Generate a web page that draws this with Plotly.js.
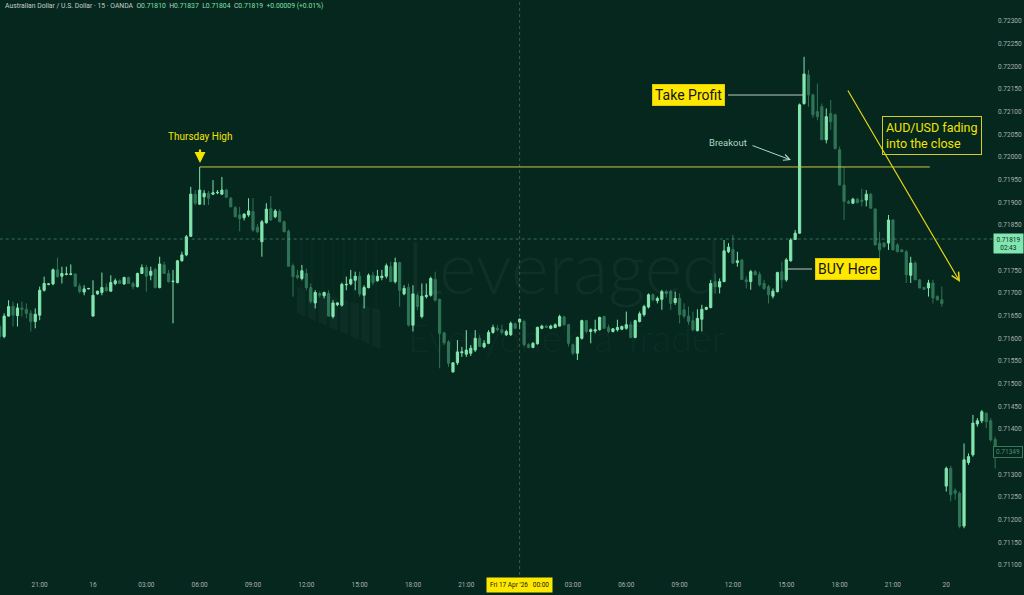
<!DOCTYPE html>
<html><head><meta charset="utf-8">
<script src="https://cdn.plot.ly/plotly-3.0.1.min.js"></script>
<style>html,body{margin:0;padding:0;background:#05271e;overflow:hidden}#chart{width:1024px;height:595px}</style>
</head><body><div id="chart"></div><script>
// ---- data: AUD/USD 15-minute candles ----
const open = [
.71626,.71604,.71649,.71671,.71650,.71667,.71664,.71655,.71637,.71651,
.71706,.71719,.71720,.71751,.71737,.71741,.71741,.71742,.71715,.71702,
.71709,.71649,.71698,.71701,.71712,.71704,.71721,.71727,.71720,.71734,
.71721,.71714,.71743,.71756,.71739,.71752,.71712,.71762,.71743,.71725,
.71723,.71771,.71784,.71825,.71918,.71896,.71912,.71920,.71918,.71921,
.71918,.71927,.71909,.71888,.71872,.71866,.71872,.71880,.71845,.71813,
.71855,.71886,.71868,.71880,.71857,.71836,.71760,.71739,.71732,.71743,
.71712,.71678,.71699,.71694,.71699,.71648,.71674,.71673,.71718,.71720,
.71728,.71737,.71695,.71712,.71739,.71727,.71734,.71737,.71758,.71725,
.71767,.71698,.71712,.71629,.71695,.71648,.71692,.71695,.71730,.71686,
.71612,.71592,.71526,.71546,.71568,.71565,.71567,.71574,.71600,.71581,
.71589,.71613,.71622,.71619,.71608,.71608,.71632,.71636,.71637,.71586,
.71580,.71588,.71622,.71627,.71622,.71624,.71627,.71647,.71630,.71586,
.71567,.71600,.71639,.71615,.71616,.71619,.71648,.71624,.71615,.71619,
.71620,.71622,.71630,.71602,.71637,.71652,.71669,.71696,.71683,.71686,
.71703,.71703,.71679,.71688,.71663,.71649,.71639,.71617,.71642,.71664,
.71668,.71725,.71713,.71725,.71791,.71796,.71767,.71773,.71729,.71725,
.71747,.71741,.71721,.71714,.71693,.71703,.71747,.71729,.71771,.71818,
.71832,.72118,.72181,.72137,.72100,.72111,.72038,.72096,.72093,.72016,
.71938,.71902,.71898,.71907,.71905,.71905,.71918,.71885,.71810,.71810,
.71810,.71861,.71806,.71795,.71791,.71739,.71766,.71729,.71712,.71711,
.71722,.71692,.71685,
.71274,.71313,.71264,.71258,.71186,.71326,.71343,.71411,.71418,.71435,
.71418,.71377];
const high = [
.71633,.71655,.71684,.71681,.71677,.71681,.71677,.71662,.71666,.71714,
.71736,.71721,.71754,.71778,.71758,.71758,.71763,.71743,.71721,.71717,
.71711,.71728,.71705,.71745,.71721,.71739,.71732,.71730,.71736,.71736,
.71725,.71745,.71763,.71762,.71758,.71756,.71780,.71769,.71751,.71751,
.71773,.71791,.71828,.71934,.71927,.71978,.71927,.71925,.71949,.71927,
.71956,.71930,.71912,.71892,.71890,.71876,.71909,.71909,.71852,.71861,
.71898,.71914,.71885,.71885,.71860,.71840,.71765,.71751,.71762,.71754,
.71721,.71706,.71703,.71703,.71706,.71684,.71680,.71723,.71736,.71751,
.71747,.71747,.71717,.71743,.71747,.71751,.71751,.71765,.71769,.71778,
.71769,.71717,.71721,.71717,.71699,.71721,.71721,.71736,.71747,.71688,
.71615,.71596,.71547,.71596,.71581,.71618,.71585,.71618,.71607,.71596,
.71618,.71630,.71629,.71630,.71619,.71637,.71635,.71644,.71641,.71589,
.71592,.71626,.71630,.71630,.71630,.71633,.71652,.71650,.71632,.71589,
.71604,.71641,.71641,.71622,.71641,.71648,.71650,.71630,.71622,.71641,
.71628,.71659,.71637,.71641,.71659,.71674,.71699,.71699,.71692,.71707,
.71707,.71707,.71703,.71699,.71677,.71670,.71659,.71664,.71674,.71670,
.71729,.71743,.71732,.71817,.71810,.71828,.71791,.71774,.71736,.71751,
.71751,.71747,.71729,.71718,.71710,.71747,.71769,.71777,.71821,.71839,
.72118,.72221,.72192,.72140,.72162,.72118,.72107,.72126,.72096,.72023,
.71979,.71905,.71910,.71910,.71930,.71927,.71920,.71887,.71835,.71812,
.71872,.71863,.71810,.71797,.71795,.71780,.71770,.71731,.71714,.71729,
.71729,.71695,.71714,
.71317,.71319,.71269,.71262,.71368,.71346,.71431,.71424,.71442,.71436,
.71424,.71383];
const low = [
.71596,.71600,.71648,.71626,.71626,.71648,.71644,.71615,.71622,.71640,
.71703,.71717,.71717,.71734,.71721,.71739,.71739,.71714,.71699,.71695,
.71708,.71648,.71696,.71695,.71703,.71703,.71717,.71720,.71718,.71720,
.71708,.71712,.71742,.71703,.71728,.71710,.71710,.71742,.71723,.71633,
.71721,.71769,.71781,.71824,.71894,.71894,.71894,.71894,.71916,.71918,
.71916,.71910,.71890,.71868,.71836,.71860,.71868,.71835,.71832,.71780,
.71853,.71859,.71865,.71857,.71835,.71759,.71692,.71730,.71728,.71706,
.71677,.71666,.71690,.71688,.71648,.71644,.71671,.71670,.71706,.71717,
.71706,.71692,.71666,.71710,.71717,.71725,.71728,.71732,.71725,.71721,
.71670,.71695,.71626,.71615,.71662,.71644,.71688,.71692,.71681,.71534,
.71585,.71537,.71524,.71541,.71559,.71559,.71561,.71570,.71581,.71578,
.71587,.71610,.71615,.71608,.71605,.71605,.71620,.71620,.71582,.71578,
.71578,.71586,.71620,.71623,.71620,.71622,.71626,.71628,.71582,.71563,
.71552,.71597,.71611,.71589,.71611,.71617,.71622,.71611,.71613,.71615,
.71618,.71619,.71600,.71600,.71635,.71648,.71666,.71681,.71677,.71663,
.71690,.71663,.71674,.71633,.71644,.71630,.71615,.71615,.71615,.71662,
.71666,.71699,.71699,.71724,.71788,.71764,.71758,.71729,.71710,.71707,
.71740,.71714,.71707,.71677,.71688,.71701,.71710,.71725,.71769,.71817,
.71830,.72115,.72111,.72086,.72081,.72038,.72030,.72060,.72016,.71938,
.71861,.71896,.71896,.71898,.71891,.71891,.71886,.71806,.71766,.71800,
.71795,.71795,.71790,.71791,.71722,.71722,.71729,.71711,.71707,.71692,
.71677,.71683,.71670,
.71262,.71240,.71244,.71181,.71181,.71321,.71339,.71405,.71413,.71402,
.71372,.71313];
const close = [
.71604,.71649,.71670,.71651,.71667,.71664,.71655,.71637,.71653,.71706,
.71721,.71720,.71751,.71736,.71743,.71742,.71742,.71715,.71703,.71709,
.71710,.71695,.71704,.71712,.71705,.71723,.71727,.71721,.71734,.71721,
.71714,.71743,.71756,.71737,.71748,.71712,.71764,.71743,.71725,.71726,
.71771,.71784,.71824,.71918,.71898,.71927,.71920,.71909,.71921,.71922,
.71927,.71911,.71890,.71868,.71864,.71874,.71881,.71839,.71835,.71857,
.71885,.71861,.71881,.71857,.71835,.71759,.71736,.71734,.71749,.71712,
.71681,.71701,.71695,.71701,.71649,.71678,.71678,.71719,.71719,.71730,
.71737,.71698,.71712,.71739,.71723,.71737,.71737,.71760,.71725,.71767,
.71706,.71710,.71629,.71698,.71670,.71693,.71695,.71732,.71684,.71611,
.71590,.71545,.71546,.71570,.71570,.71574,.71578,.71600,.71582,.71589,
.71613,.71624,.71619,.71613,.71615,.71633,.71622,.71642,.71586,.71580,
.71589,.71624,.71627,.71624,.71627,.71630,.71648,.71630,.71589,.71567,
.71602,.71639,.71615,.71619,.71619,.71646,.71622,.71615,.71621,.71624,
.71626,.71630,.71602,.71639,.71654,.71670,.71696,.71685,.71688,.71703,
.71699,.71677,.71688,.71652,.71649,.71637,.71619,.71644,.71664,.71668,
.71721,.71714,.71725,.71793,.71801,.71766,.71771,.71730,.71725,.71747,
.71740,.71718,.71710,.71696,.71704,.71745,.71729,.71773,.71817,.71832,
.72115,.72183,.72137,.72093,.72089,.72038,.72089,.72078,.72019,.71938,
.71902,.71898,.71907,.71899,.71902,.71918,.71887,.71806,.71795,.71802,
.71861,.71795,.71791,.71791,.71740,.71766,.71729,.71711,.71708,.71722,
.71689,.71685,.71677,
.71313,.71255,.71258,.71185,.71332,.71339,.71413,.71418,.71438,.71416,
.71376,.71354];

// time-axis labels (candle slot where each label sits)
const timeTickSlot = [10,22,34,46,58,70,82,94,106,130,142,154,166,178,190,202,214];
const timeTickText = ['21:00','16','03:00','06:00','09:00','12:00','15:00','18:00','21:00',
                      '03:00','06:00','09:00','12:00','15:00','18:00','21:00','20'];
const markerSlot = 118;
const markerText = "Fri 17 Apr '26&nbsp;&nbsp;&nbsp;00:00";
const priceTicks = [0.711,0.7115,0.712,0.7125,0.713,0.714,0.7145,0.715,0.7155,0.716,0.7165,
                    0.717,0.7175,0.7185,0.719,0.7195,0.72,0.7205,0.721,0.7215,0.722,0.7225,0.723];
const headerTitle = 'Australian Dollar / U.S. Dollar · 15 · OANDA';
const headerO = '0.71810', headerH = '0.71837', headerL = '0.71804', headerC = '0.71819', headerChg = '+0.00009 (+0.01%)';
const lastPrice = 0.71819, countdown = '02:43';
const livePrice = 0.71349;
const thursdayHighEnd = 210.3;

// ---- layout helpers ----
const BG = '#05271e', BULL = '#82e6af', BEAR = '#2f7457';
const W = 997, H = 575;
const px = x => x / W;
const py = y => 1 - y / H;
const slots = open.map((_, i) => i + 1);

// Thursday high = max high in the first part of the chart
let thIdx = 0;
for (let i = 1; i < 120; i++) if (high[i] > high[thIdx]) thIdx = i;
const thursdayHigh = high[thIdx];

const trace = {
  type: 'candlestick', x: slots, open: open, high: high, low: low, close: close,
  increasing: {line: {color: BULL, width: 1}, fillcolor: BULL},
  decreasing: {line: {color: BEAR, width: 1}, fillcolor: BEAR},
  whiskerwidth: 0, hoverinfo: 'skip', showlegend: false
};

const F = 'Roboto, "Open Sans", sans-serif';
const YEL = '#ffe800';

const shapes = [
  {type: 'line', xref: 'x', yref: 'y', x0: 1, x1: 230, y0: lastPrice, y1: lastPrice,
   line: {color: 'rgba(120,200,160,0.45)', width: 1, dash: 'dot'}},
  {type: 'line', xref: 'x', yref: 'paper', x0: markerSlot, x1: markerSlot, y0: 0, y1: 1,
   line: {color: 'rgba(150,170,110,0.4)', width: 1, dash: 'dot'}},
  {type: 'line', xref: 'x', yref: 'y', x0: thIdx + 1, x1: thursdayHighEnd, y0: thursdayHigh, y1: thursdayHigh,
   line: {color: '#cfc63e', width: 1}},
  {type: 'line', xref: 'paper', yref: 'paper', x0: px(728), x1: px(803), y0: py(95), y1: py(95),
   line: {color: '#b8cbc1', width: 1}},
  {type: 'line', xref: 'paper', yref: 'paper', x0: px(786), x1: px(812), y0: py(269), y1: py(269),
   line: {color: '#b8cbc1', width: 1}}
];
// watermark logo (decorative)
for (let i = 0; i < 8; i++) {
  const x0 = 297 + i * 10.7, x1 = x0 + 8.5, xc = (x0 + x1) / 2;
  const t0 = 287 + (x0 - 297) * 0.27, t1 = 287 + (x1 - 297) * 0.27;
  const b0 = 313 + (x0 - 297) * 0.43, b1 = 313 + (x1 - 297) * 0.43;
  shapes.push({type: 'path', xref: 'paper', yref: 'paper', layer: 'below',
    path: `M${px(x0)},${py(t0)} L${px(x1)},${py(t1)} L${px(x1)},${py(b1)} L${px(x0)},${py(b0)} Z`,
    fillcolor: 'rgba(255,255,255,0.035)', line: {width: 0}});
  shapes.push({type: 'line', xref: 'paper', yref: 'paper', layer: 'below',
    x0: px(xc), x1: px(xc), y0: py(240), y1: py(t0 + 1),
    line: {color: 'rgba(255,255,255,0.035)', width: 1}});
}

const G = '#7fe0aa', GR = '#c4cec9';
const A = (o) => Object.assign({xref: 'paper', yref: 'paper', xanchor: 'center', yanchor: 'middle', showarrow: false}, o);
const annotations = [
  A({x: px(3), y: py(6), xanchor: 'left',
   font: {family: F, size: 6.8, color: GR},
   text: `${headerTitle}&nbsp;&nbsp;<span style="color:${GR}">O</span><span style="color:${G}">${headerO}</span>&nbsp;&nbsp;<span style="color:${GR}">H</span><span style="color:${G}">${headerH}</span>&nbsp;&nbsp;<span style="color:${GR}">L</span><span style="color:${G}">${headerL}</span>&nbsp;&nbsp;<span style="color:${GR}">C</span><span style="color:${G}">${headerC}</span>&nbsp;&nbsp;<span style="color:${G}">${headerChg}</span>`}),
  // watermark
  A({x: px(404), y: py(266), xanchor: 'left',
   text: 'Leveraged', font: {family: 'Lato, ' + F, size: 72, weight: 300, color: 'rgba(255,255,255,0.045)'}}),
  A({x: px(406), y: py(337), xanchor: 'left',
   text: "Everyone's a Trader", font: {family: 'Lato, ' + F, size: 38, weight: 300, color: 'rgba(255,255,255,0.04)'}}),
  // Thursday high
  A({x: px(200), y: py(136), text: 'Thursday High', font: {family: F, size: 10, color: '#f2e400'}}),
  A({x: px(200), y: py(163), ax: 0, ay: -15, text: '', showarrow: true,
   arrowhead: 2, arrowsize: 1, arrowwidth: 2.2, arrowcolor: '#f2e400'}),
  // Take profit
  A({x: px(688), y: py(95), text: 'Take Profit',
   font: {family: F, size: 14, color: '#151515'}, bgcolor: YEL, bordercolor: '#e0cc00', borderwidth: 1, borderpad: 2}),
  // Breakout
  A({x: px(728), y: py(143), text: 'Breakout', font: {family: F, size: 9.5, color: '#acd9c0'}}),
  A({x: px(791), y: py(160), ax: -40, ay: -15, text: '', showarrow: true,
   arrowhead: 5, arrowsize: 1.2, arrowwidth: 1, arrowcolor: '#acd9c0'}),
  // BUY here
  A({x: px(847), y: py(269), text: 'BUY Here',
   font: {family: F, size: 14, color: '#151515'}, bgcolor: YEL, bordercolor: '#e0cc00', borderwidth: 1, borderpad: 2}),
  // fading note
  A({x: px(932), y: py(135), align: 'left', text: 'AUD/USD fading<br>into the close',
   font: {family: F, size: 12.5, color: '#f2e400'}, bordercolor: '#d9cc20', borderwidth: 1, borderpad: 3, bgcolor: BG}),
  A({x: px(960), y: py(282), ax: -113, ay: -193, text: '', showarrow: true,
   arrowhead: 5, arrowsize: 1.3, arrowwidth: 1.2, arrowcolor: '#e6d612'}),
  // price scale labels
  A({yref: 'y', x: px(1008), y: lastPrice, yanchor: 'top', yshift: 6,
   text: `${lastPrice.toFixed(5)}<br>${countdown}`, font: {family: F, size: 6.5, color: '#0a2a1f'},
   bgcolor: BULL, borderpad: 1.5, width: 26}),
  A({yref: 'y', x: px(1008), y: livePrice,
   text: livePrice.toFixed(5), font: {family: F, size: 6.5, color: '#4f8a6e'},
   bgcolor: BG, bordercolor: '#3b765c', borderwidth: 1, borderpad: 1, width: 26}),
  // highlighted date on time axis
  A({xref: 'x', x: markerSlot, y: py(585), text: markerText,
   font: {family: F, size: 6.5, color: '#151515'}, bgcolor: YEL, borderpad: 3})
];

const layout = {
  width: 1024, height: 595, margin: {l: 0, r: 27, t: 0, b: 20},
  paper_bgcolor: BG, plot_bgcolor: BG, showlegend: false, boxgap: 0.3,
  font: {family: F, color: '#a9b2ae'},
  xaxis: {type: 'linear', range: [1.07, 1.07 + W / 4.444], rangeslider: {visible: false},
    tickmode: 'array', tickvals: timeTickSlot, ticktext: timeTickText, ticks: '', ticklabelstandoff: 4,
    showgrid: false, zeroline: false, showline: false, fixedrange: true,
    tickfont: {family: F, size: 6.5, color: '#a9b2ae'}},
  yaxis: {side: 'right', range: [0.710779, 0.723463], tickmode: 'array', tickvals: priceTicks,
    ticktext: priceTicks.map(v => v.toFixed(5)), ticks: '', showgrid: false, zeroline: false,
    showline: false, fixedrange: true, tickfont: {family: F, size: 6.5, color: '#a9b2ae'}},
  shapes: shapes, annotations: annotations
};

Plotly.newPlot('chart', [trace], layout, {staticPlot: true, displayModeBar: false});
</script></body></html>
